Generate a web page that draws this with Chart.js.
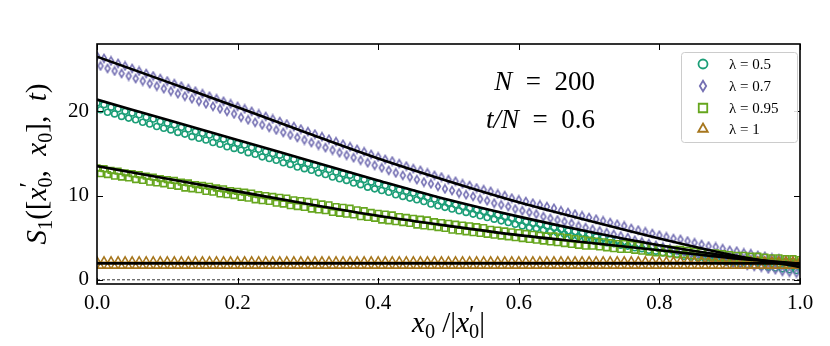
<!DOCTYPE html>
<html>
<head>
<meta charset="utf-8">
<script src="https://cdn.jsdelivr.net/npm/chart.js@4.4.1/dist/chart.umd.min.js"></script>
<style>
  body { margin: 0; background: #fff; }
  #wrap { width: 830px; height: 346px; }
</style>
</head>
<body>
<div id="wrap"><canvas id="chart"></canvas></div>
<script>
// x0/|x0'| grid of the theory curves
var theoryX = [0, 0.1, 0.2, 0.3, 0.4, 0.5, 0.6, 0.7, 0.8, 0.9, 1.0];
var theory05 = [21.4, 19.0, 16.6, 14.2, 11.8, 9.5, 7.5, 5.7, 4.1, 2.8, 1.8];
var theory07 = [26.5, 23.5, 20.5, 17.4, 14.4, 11.7, 9.2, 7.0, 4.9, 3.0, 1.5];
var theory095 = [13.5, 12.0, 10.5, 9.0, 7.6, 6.4, 5.3, 4.4, 3.5, 2.6, 1.9];
var theory1 = [1.95, 1.95, 1.95, 1.95, 1.95, 1.95, 1.95, 1.95, 1.95, 1.95, 1.95];

// simulation: even sites (x0 = 0,2,...,200) and odd sites (x0 = 1,3,...,199), |x0'| = 200
var lam05Even = [
  21.0, 20.8, 20.5, 20.3, 20.0, 19.8, 19.6, 19.3, 19.1, 18.8,
  18.6, 18.4, 18.1, 17.9, 17.6, 17.4, 17.2, 16.9, 16.7, 16.4,
  16.2, 16.0, 15.7, 15.5, 15.2, 15.0, 14.8, 14.5, 14.3, 14.0,
  13.8, 13.6, 13.3, 13.1, 12.8, 12.6, 12.4, 12.1, 11.9, 11.6,
  11.4, 11.2, 10.9, 10.7, 10.5, 10.3, 10.0, 9.8, 9.6, 9.3,
  9.1, 8.9, 8.7, 8.5, 8.3, 8.1, 7.9, 7.7, 7.5, 7.3,
  7.1, 6.9, 6.7, 6.6, 6.4, 6.2, 6.0, 5.8, 5.7, 5.5,
  5.3, 5.1, 5.0, 4.8, 4.7, 4.5, 4.3, 4.2, 4.0, 3.9,
  3.7, 3.6, 3.4, 3.3, 3.2, 3.1, 2.9, 2.8, 2.7, 2.5,
  2.4, 2.3, 2.2, 2.1, 2.0, 2.0, 1.9, 1.8, 1.7, 1.6, 1.5
];
var lam05Odd = [
  20.2, 19.9, 19.7, 19.4, 19.2, 19.0, 18.7, 18.5, 18.2, 18.0,
  17.8, 17.5, 17.3, 17.0, 16.8, 16.6, 16.3, 16.1, 15.8, 15.6,
  15.4, 15.1, 14.9, 14.6, 14.4, 14.2, 13.9, 13.7, 13.4, 13.2,
  13.0, 12.7, 12.5, 12.2, 12.0, 11.8, 11.5, 11.3, 11.0, 10.8,
  10.6, 10.4, 10.1, 9.9, 9.7, 9.5, 9.3, 9.0, 8.8, 8.6,
  8.4, 8.2, 8.0, 7.8, 7.6, 7.4, 7.2, 7.0, 6.8, 6.6,
  6.4, 6.2, 6.1, 5.9, 5.7, 5.6, 5.4, 5.2, 5.1, 4.9,
  4.7, 4.6, 4.4, 4.3, 4.1, 4.0, 3.8, 3.7, 3.5, 3.4,
  3.2, 3.1, 3.0, 2.8, 2.7, 2.6, 2.5, 2.3, 2.2, 2.1,
  2.0, 1.9, 1.8, 1.7, 1.6, 1.5, 1.4, 1.3, 1.2, 1.1
];
var lam07Even = [
  26.6, 26.3, 26.0, 25.7, 25.4, 25.1, 24.8, 24.5, 24.2, 23.9,
  23.6, 23.3, 23.0, 22.7, 22.4, 22.1, 21.8, 21.5, 21.2, 20.9,
  20.6, 20.3, 20.0, 19.7, 19.4, 19.1, 18.8, 18.5, 18.2, 17.9,
  17.6, 17.3, 17.0, 16.7, 16.4, 16.1, 15.8, 15.5, 15.2, 14.9,
  14.6, 14.3, 14.1, 13.8, 13.5, 13.2, 13.0, 12.7, 12.4, 12.2,
  11.9, 11.7, 11.4, 11.2, 10.9, 10.7, 10.5, 10.2, 10.0, 9.7,
  9.5, 9.3, 9.1, 8.9, 8.7, 8.5, 8.2, 8.0, 7.8, 7.6,
  7.4, 7.2, 7.0, 6.8, 6.6, 6.4, 6.1, 5.9, 5.7, 5.5,
  5.3, 5.1, 4.9, 4.8, 4.6, 4.4, 4.2, 4.0, 3.9, 3.7,
  3.5, 3.4, 3.2, 3.1, 2.9, 2.8, 2.6, 2.5, 2.3, 2.2, 2.0
];
var lam07Odd = [
  25.4, 25.1, 24.8, 24.5, 24.2, 23.9, 23.6, 23.3, 23.0, 22.7,
  22.4, 22.1, 21.8, 21.5, 21.2, 20.9, 20.6, 20.3, 20.0, 19.7,
  19.3, 19.0, 18.7, 18.4, 18.1, 17.8, 17.5, 17.2, 16.9, 16.6,
  16.3, 16.0, 15.7, 15.4, 15.1, 14.8, 14.5, 14.2, 13.9, 13.6,
  13.3, 13.0, 12.7, 12.4, 12.2, 11.9, 11.6, 11.4, 11.1, 10.8,
  10.6, 10.3, 10.1, 9.9, 9.6, 9.4, 9.1, 8.9, 8.7, 8.4,
  8.2, 8.0, 7.8, 7.5, 7.3, 7.1, 6.9, 6.7, 6.4, 6.2,
  6.0, 5.8, 5.6, 5.4, 5.2, 5.0, 4.7, 4.5, 4.3, 4.1,
  3.9, 3.7, 3.5, 3.3, 3.1, 3.0, 2.8, 2.6, 2.4, 2.2,
  2.0, 1.9, 1.7, 1.6, 1.5, 1.3, 1.2, 1.0, 0.9, 0.8
];
var lam095Even = [
  13.3, 13.2, 13.0, 12.9, 12.7, 12.6, 12.5, 12.3, 12.2, 12.0,
  11.9, 11.8, 11.6, 11.5, 11.3, 11.2, 11.1, 10.9, 10.8, 10.6,
  10.5, 10.4, 10.3, 10.1, 10.0, 9.9, 9.8, 9.7, 9.5, 9.4,
  9.3, 9.2, 9.0, 8.9, 8.7, 8.6, 8.5, 8.3, 8.2, 8.0,
  7.9, 7.8, 7.7, 7.5, 7.4, 7.3, 7.2, 7.1, 6.9, 6.8,
  6.7, 6.6, 6.5, 6.4, 6.3, 6.2, 6.0, 5.9, 5.8, 5.7,
  5.6, 5.5, 5.4, 5.3, 5.2, 5.2, 5.1, 5.0, 4.9, 4.8,
  4.7, 4.6, 4.5, 4.4, 4.3, 4.3, 4.2, 4.1, 4.0, 3.9,
  3.8, 3.7, 3.6, 3.6, 3.5, 3.4, 3.3, 3.2, 3.2, 3.1,
  3.0, 2.9, 2.9, 2.8, 2.8, 2.7, 2.6, 2.6, 2.5, 2.5, 2.4
];
var lam095Odd = [
  12.6, 12.5, 12.3, 12.2, 12.1, 11.9, 11.8, 11.6, 11.5, 11.4,
  11.2, 11.1, 10.9, 10.8, 10.7, 10.5, 10.4, 10.2, 10.1, 10.0,
  9.8, 9.7, 9.5, 9.4, 9.3, 9.1, 9.0, 8.8, 8.7, 8.6,
  8.4, 8.3, 8.2, 8.0, 7.9, 7.8, 7.7, 7.5, 7.4, 7.3,
  7.1, 7.0, 6.9, 6.8, 6.7, 6.5, 6.4, 6.3, 6.2, 6.1,
  5.9, 5.8, 5.7, 5.6, 5.5, 5.4, 5.3, 5.2, 5.1, 5.0,
  4.9, 4.8, 4.7, 4.6, 4.5, 4.4, 4.3, 4.2, 4.1, 4.0,
  4.0, 3.9, 3.8, 3.7, 3.6, 3.6, 3.5, 3.4, 3.3, 3.2,
  3.2, 3.1, 3.0, 3.0, 2.9, 2.8, 2.8, 2.7, 2.6, 2.5,
  2.5, 2.4, 2.4, 2.3, 2.3, 2.2, 2.2, 2.1, 2.1, 2.0
];
var lam1Even = [
  2.3, 2.3, 2.3, 2.3, 2.3, 2.3, 2.3, 2.3, 2.3, 2.3,
  2.3, 2.3, 2.3, 2.3, 2.3, 2.3, 2.3, 2.3, 2.3, 2.3,
  2.3, 2.3, 2.3, 2.3, 2.3, 2.3, 2.3, 2.3, 2.3, 2.3,
  2.3, 2.3, 2.3, 2.3, 2.3, 2.3, 2.3, 2.3, 2.3, 2.3,
  2.3, 2.3, 2.3, 2.3, 2.3, 2.3, 2.3, 2.3, 2.3, 2.3,
  2.3, 2.3, 2.3, 2.3, 2.3, 2.3, 2.3, 2.3, 2.3, 2.3,
  2.3, 2.3, 2.3, 2.3, 2.3, 2.3, 2.3, 2.3, 2.3, 2.3,
  2.3, 2.3, 2.3, 2.3, 2.3, 2.3, 2.3, 2.3, 2.3, 2.3,
  2.3, 2.3, 2.3, 2.3, 2.3, 2.3, 2.3, 2.3, 2.3, 2.3,
  2.3, 2.3, 2.3, 2.3, 2.3, 2.3, 2.3, 2.3, 2.3, 2.3, 2.3
];
var lam1Odd = [
  1.6, 1.6, 1.6, 1.6, 1.6, 1.6, 1.6, 1.6, 1.6, 1.6,
  1.6, 1.6, 1.6, 1.6, 1.6, 1.6, 1.6, 1.6, 1.6, 1.6,
  1.6, 1.6, 1.6, 1.6, 1.6, 1.6, 1.6, 1.6, 1.6, 1.6,
  1.6, 1.6, 1.6, 1.6, 1.6, 1.6, 1.6, 1.6, 1.6, 1.6,
  1.6, 1.6, 1.6, 1.6, 1.6, 1.6, 1.6, 1.6, 1.6, 1.6,
  1.6, 1.6, 1.6, 1.6, 1.6, 1.6, 1.6, 1.6, 1.6, 1.6,
  1.6, 1.6, 1.6, 1.6, 1.6, 1.6, 1.6, 1.6, 1.6, 1.6,
  1.6, 1.6, 1.6, 1.6, 1.6, 1.6, 1.6, 1.6, 1.6, 1.6,
  1.6, 1.6, 1.6, 1.6, 1.6, 1.6, 1.6, 1.6, 1.6, 1.6,
  1.6, 1.6, 1.6, 1.6, 1.6, 1.6, 1.6, 1.6, 1.6, 1.6
];

var xTicks = [0, 0.2, 0.4, 0.6, 0.8, 1.0];
var yTicks = [0, 10, 20];
var legendLabels = ['λ = 0.5', 'λ = 0.7', 'λ = 0.95', 'λ = 1'];
var colors = ['#1b9e77', '#7570b3', '#66a61e', '#a6761d'];
var serif = "'Liberation Serif', 'DejaVu Serif', serif";
var nSites = 200;

// axis titles as [text, style]: i italic, r roman, sub/sup, stack = index under the prime
var xTitle = [['x', 'i'], ['0', 'sub'], [' /|', 'r'], ['x', 'i'], ['′', 'sup'], ['0', 'stack'], ['|', 'r']];
var yTitle = [['S', 'i'], ['1', 'sub'], ['([', 'r'], ['x', 'i'], ['′', 'sup'], ['0', 'stack'],
              [',  ', 'r'], ['x', 'i'], ['0', 'sub'], ['],  ', 'r'], ['t', 'i'], [')', 'r']];

// interleave even and odd sites back into one chain
function sites(even, odd) {
    var pts = [];
    for (var j = 0; j <= nSites; j++) {
        var v = j % 2 === 0 ? even[j / 2] : odd[(j - 1) / 2];
        pts.push({x: j / nSites, y: v});
    }
    return pts;
}
function curve(ys) {
    return theoryX.map(function (x, i) { return {x: x, y: ys[i]}; });
}

// thin diamond marker like matplotlib 'd'
function thinDiamond(w, h, lw, color) {
    var c = document.createElement('canvas');
    c.width = w + 2 * lw; c.height = h + 2 * lw;
    var g = c.getContext('2d');
    g.strokeStyle = color; g.lineWidth = lw;
    g.beginPath();
    g.moveTo(c.width / 2, lw); g.lineTo(c.width - lw, c.height / 2);
    g.lineTo(c.width / 2, c.height - lw); g.lineTo(lw, c.height / 2);
    g.closePath(); g.stroke();
    return c;
}
var diamondSmall = thinDiamond(5, 8, 1.6, colors[1]);
var diamondBig = thinDiamond(7, 11, 1.8, colors[1]);

var markerStyles = ['circle', diamondSmall, 'rect', 'triangle'];
var markerRadius = [3, 4, 4, 3.6];
var markerData = [sites(lam05Even, lam05Odd), sites(lam07Even, lam07Odd),
                  sites(lam095Even, lam095Odd), sites(lam1Even, lam1Odd)];
var theoryData = [theory05, theory07, theory095, theory1];

var datasets = [];
theoryData.forEach(function (t) {
    datasets.push({
        data: curve(t), showLine: true, borderColor: '#000', borderWidth: 2.6,
        pointRadius: 0, cubicInterpolationMode: 'monotone', order: 0
    });
});
datasets.push({
    data: [{x: 0, y: 0}, {x: 1, y: 0}], showLine: true, borderColor: '#222',
    borderWidth: 0.9, borderDash: [3, 2], pointRadius: 0, order: 0
});
markerData.forEach(function (d, i) {
    datasets.push({
        label: legendLabels[i], data: d, showLine: false,
        pointStyle: markerStyles[i], pointRadius: markerRadius[i],
        pointBorderColor: colors[i], pointBackgroundColor: 'rgba(0,0,0,0)',
        pointBorderWidth: 1.6, borderColor: colors[i], order: 4 - i
    });
});

// little math-like text: italic variables, smaller lowered/raised indices
function richText(ctx, parts, size, draw, x0, y0) {
    var x = x0, prevX = x0, prevW = 0;
    parts.forEach(function (p) {
        var st = p[1];
        var scale = st === 'sub' || st === 'stack' ? 0.7 : st === 'sup' ? 0.85 : 1;
        ctx.font = (st === 'i' ? 'italic ' : '') + (size * scale) + 'px ' + serif;
        var w = ctx.measureText(p[0]).width;
        var dy = st === 'sub' || st === 'stack' ? size * 0.22 : st === 'sup' ? -size * 0.3 : 0;
        var px = st === 'stack' ? prevX : x;
        if (draw) ctx.fillText(p[0], px, y0 + dy);
        if (st === 'stack') { x = prevX + Math.max(w, prevW); }
        else { prevX = x; prevW = w; x += w; }
    });
    return x - x0;
}

function drawMixed(ctx, parts, right, y) {
    var widths = parts.map(function (p) {
        ctx.font = (p[1] ? 'italic ' : '') + '27px ' + serif;
        return ctx.measureText(p[0]).width;
    });
    var x = right - widths.reduce(function (s, w) { return s + w; }, 0);
    parts.forEach(function (p, i) {
        ctx.font = (p[1] ? 'italic ' : '') + '27px ' + serif;
        ctx.fillText(p[0], x, y);
        x += widths[i];
    });
}

var framePlugin = {
    id: 'frame',
    afterDatasetsDraw: function (chart) {
        var a = chart.chartArea, ctx = chart.ctx;
        var xs = chart.scales.x, ys = chart.scales.y;
        ctx.save();
        ctx.strokeStyle = '#000';
        ctx.lineWidth = 1;
        xTicks.forEach(function (v) {
            var px = Math.round(xs.getPixelForValue(v)) + 0.5;
            ctx.beginPath();
            ctx.moveTo(px, a.bottom); ctx.lineTo(px, a.bottom - 6);
            ctx.moveTo(px, a.top); ctx.lineTo(px, a.top + 6);
            ctx.stroke();
        });
        yTicks.forEach(function (v) {
            var py = Math.round(ys.getPixelForValue(v)) + 0.5;
            ctx.beginPath();
            ctx.moveTo(a.left, py); ctx.lineTo(a.left + 6, py);
            ctx.moveTo(a.right, py); ctx.lineTo(a.right - 6, py);
            ctx.stroke();
        });
        ctx.lineWidth = 1.6;
        ctx.strokeRect(a.left, a.top, a.right - a.left, a.bottom - a.top);
        ctx.restore();
    },
    afterDraw: function (chart) {
        var ctx = chart.ctx, a = chart.chartArea;
        ctx.save();
        // legend box
        ctx.fillStyle = 'rgba(255,255,255,0.85)';
        ctx.strokeStyle = '#cccccc';
        ctx.lineWidth = 1;
        ctx.beginPath();
        ctx.roundRect(681.5, 52.5, 116, 90, 3);
        ctx.fill(); ctx.stroke();
        var rows = [64, 86, 108, 129];
        var legStyles = ['circle', diamondBig, 'rect', 'triangle'];
        var legRadius = [4.5, 5, 6, 5.5];
        rows.forEach(function (y, i) {
            ctx.strokeStyle = colors[i];
            ctx.fillStyle = 'rgba(0,0,0,0)';
            ctx.lineWidth = 1.8;
            Chart.helpers.drawPoint(ctx, {
                pointStyle: legStyles[i], radius: legRadius[i], rotation: 0,
                borderWidth: 1.8
            }, 703, y);
        });
        rows.forEach(function (y, i) {
            ctx.fillStyle = '#000';
            ctx.font = '15px ' + serif;
            ctx.textBaseline = 'middle';
            ctx.textAlign = 'left';
            ctx.fillText(legendLabels[i], 729, y + 1);
        });
        // annotation
        ctx.fillStyle = '#000';
        ctx.textBaseline = 'alphabetic';
        ctx.textAlign = 'left';
        drawMixed(ctx, [['N', true], ['  =  200', false]], 595, 90);
        drawMixed(ctx, [['t/N', true], ['  =  0.6', false]], 595, 128);
        // axis titles
        var size = 29;
        var wx = richText(ctx, xTitle, size, false, 0, 0);
        richText(ctx, xTitle, size, true, (a.left + a.right) / 2 - wx / 2, 332);
        var wy = richText(ctx, yTitle, size, false, 0, 0);
        ctx.translate(46, (a.top + a.bottom) / 2);
        ctx.rotate(-Math.PI / 2);
        richText(ctx, yTitle, size, true, -wy / 2, 0);
        ctx.restore();
    }
};

new Chart(document.getElementById('chart'), {
    type: 'scatter',
    data: {datasets: datasets},
    options: {
        responsive: true,
        maintainAspectRatio: false,
        animation: false,
        layout: {padding: {top: 44, right: 30, left: 0, bottom: 0}},
        plugins: {legend: {display: false}, tooltip: {enabled: false}},
        scales: {
            x: {
                type: 'linear', min: 0, max: 1,
                grid: {display: false, drawTicks: false},
                border: {display: false},
                afterBuildTicks: function (s) { s.ticks = xTicks.map(function (v) { return {value: v}; }); },
                afterFit: function (s) { s.height = 62; },
                ticks: {
                    padding: 7, color: '#000', font: {family: serif, size: 21},
                    callback: function (v) { return v.toFixed(1); }
                }
            },
            y: {
                min: -0.5, max: 28,
                grid: {display: false, drawTicks: false},
                border: {display: false},
                afterBuildTicks: function (s) { s.ticks = yTicks.map(function (v) { return {value: v}; }); },
                afterFit: function (s) { s.width = 97; },
                ticks: {padding: 8, color: '#000', font: {family: serif, size: 21}}
            }
        }
    },
    plugins: [framePlugin]
});
</script>
</body>
</html>
